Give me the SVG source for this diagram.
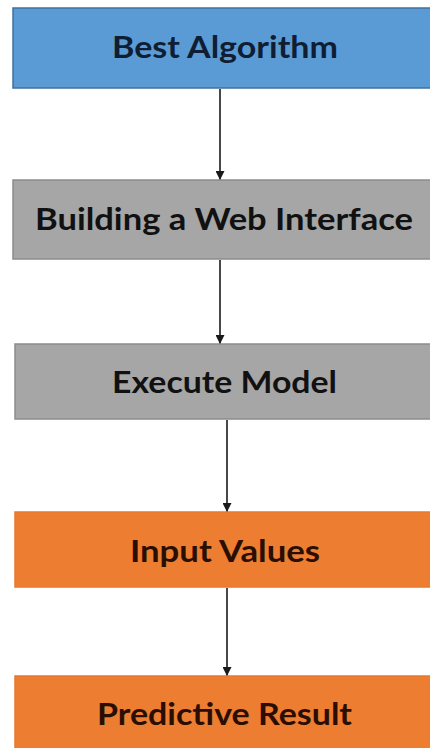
<svg xmlns="http://www.w3.org/2000/svg" width="430" height="748" viewBox="0 0 430 748">
  <defs>
    <marker id="arrowhead" viewBox="0 0 10 10" refX="10" refY="5" markerWidth="9" markerHeight="9" markerUnits="userSpaceOnUse" orient="auto">
      <path d="M0,0 L10,5 L0,10 z" fill="#1a1a1a"/>
    </marker>
  </defs>
  <style>
    .box { stroke-width: 1.5; }
    .blue { fill: #5b9bd5; stroke: #41719c; }
    .grey { fill: #a6a6a6; stroke: #8c8c8c; }
    .orange { fill: #ed7d31; stroke: #e8782c; }
    .label { font-family: Lato, "Open Sans", "Liberation Sans", sans-serif; font-weight: bold; font-size: 30px; text-anchor: middle; }
    .edge { stroke: #1a1a1a; stroke-width: 1.6; fill: none; marker-end: url(#arrowhead); }
  </style>
  <rect width="430" height="748" fill="#ffffff"/>

  <g id="connectors">
    <line class="edge" x1="220" y1="89" x2="220" y2="180"/>
    <line class="edge" x1="220" y1="260" x2="220" y2="344"/>
    <line class="edge" x1="227" y1="420" x2="227" y2="512"/>
    <line class="edge" x1="227" y1="588" x2="227" y2="676"/>
  </g>

  <g id="best-algorithm">
    <rect class="box blue" x="13" y="8" width="430" height="80"/>
    <text class="label" x="225" y="58" fill="#0f1e33" textLength="226" lengthAdjust="spacingAndGlyphs">Best Algorithm</text>
  </g>

  <g id="web-interface">
    <rect class="box grey" x="13" y="180" width="430" height="79"/>
    <text class="label" x="224" y="230" fill="#111111" textLength="378" lengthAdjust="spacingAndGlyphs">Building a Web Interface</text>
  </g>

  <g id="execute-model">
    <rect class="box grey" x="15" y="344" width="430" height="75"/>
    <text class="label" x="224.5" y="393" fill="#111111" textLength="225" lengthAdjust="spacingAndGlyphs">Execute Model</text>
  </g>

  <g id="input-values">
    <rect class="box orange" x="15" y="512" width="430" height="75"/>
    <text class="label" x="225" y="562" fill="#2a0e02" textLength="190" lengthAdjust="spacingAndGlyphs">Input Values</text>
  </g>

  <g id="predictive-result">
    <rect class="box orange" x="15" y="676" width="430" height="80"/>
    <text class="label" x="224.5" y="725" fill="#2a0e02" textLength="255" lengthAdjust="spacingAndGlyphs">Predictive Result</text>
  </g>
</svg>
